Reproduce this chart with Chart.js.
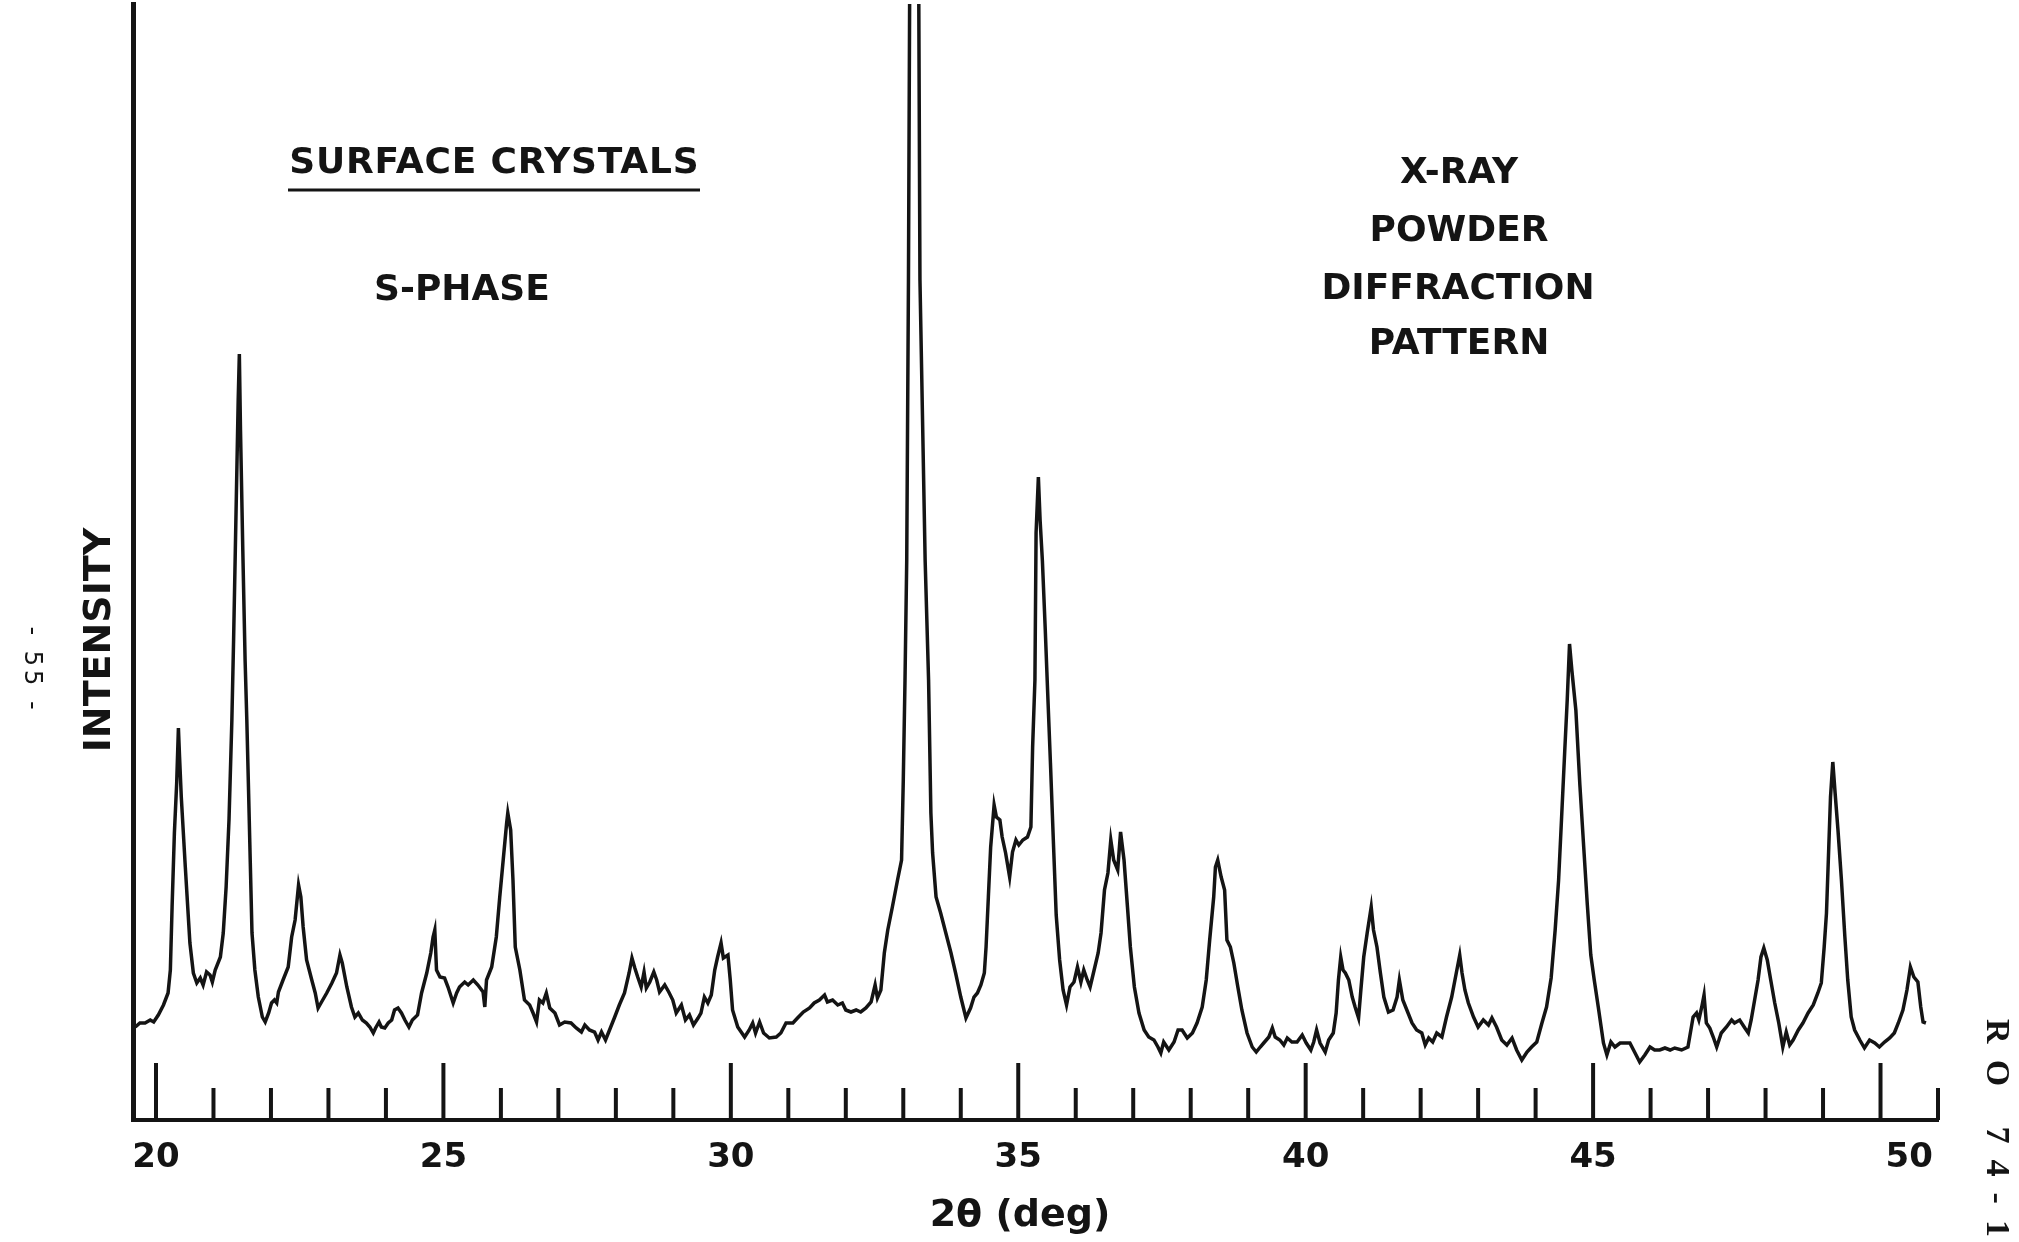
<!DOCTYPE html>
<html>
<head>
<meta charset="utf-8">
<title>X-ray powder diffraction pattern</title>
<script src="https://cdn.jsdelivr.net/npm/chart.js@4.4.1/dist/chart.umd.min.js"></script>
<style>
  html, body { margin: 0; padding: 0; background: #fff; }
  #wrap { width: 2019px; height: 1242px; }
</style>
</head>
<body>
<div id="wrap"><canvas id="xrd" width="2019" height="1242"></canvas></div>
<script>
// 2-theta positions (deg) of the traced recorder pen
const twoTheta = [
  19.64, 19.72, 19.81, 19.90, 19.96, 20.04, 20.13, 20.21, 20.25, 20.28, 20.32, 20.36, 20.39, 20.41, 20.44, 20.51,
  20.59, 20.65, 20.71, 20.77, 20.82, 20.88, 20.94, 20.98, 21.03, 21.12, 21.17, 21.22, 21.27, 21.32, 21.35, 21.38,
  21.41, 21.43, 21.45, 21.47, 21.51, 21.55, 21.58, 21.61, 21.64, 21.67, 21.72, 21.78, 21.85, 21.90, 21.96, 22.01,
  22.06, 22.10, 22.13, 22.21, 22.30, 22.36, 22.42, 22.48, 22.52, 22.56, 22.62, 22.71, 22.77, 22.82, 22.88, 22.97,
  23.06, 23.14, 23.20, 23.24, 23.32, 23.40, 23.46, 23.52, 23.59, 23.66, 23.72, 23.78, 23.82, 23.88, 23.92, 23.98,
  24.04, 24.10, 24.15, 24.21, 24.27, 24.33, 24.40, 24.46, 24.55, 24.62, 24.71, 24.78, 24.82, 24.85, 24.88, 24.94,
  25.02, 25.08, 25.17, 25.23, 25.28, 25.37, 25.43, 25.52, 25.60, 25.69, 25.72, 25.75, 25.84, 25.92, 25.98, 26.04,
  26.10, 26.12, 26.17, 26.21, 26.25, 26.33, 26.41, 26.50, 26.56, 26.62, 26.67, 26.73, 26.79, 26.85, 26.94, 27.02,
  27.11, 27.22, 27.31, 27.40, 27.46, 27.54, 27.63, 27.69, 27.75, 27.82, 27.89, 27.98, 28.06, 28.15, 28.23, 28.28,
  28.33, 28.38, 28.44, 28.49, 28.53, 28.59, 28.66, 28.71, 28.76, 28.85, 28.92, 28.99, 29.05, 29.14, 29.21, 29.28,
  29.35, 29.43, 29.48, 29.54, 29.60, 29.66, 29.72, 29.77, 29.83, 29.87, 29.95, 29.99, 30.03, 30.12, 30.24, 30.32,
  30.38, 30.43, 30.50, 30.57, 30.67, 30.79, 30.87, 30.96, 31.08, 31.16, 31.26, 31.37, 31.45, 31.54, 31.63, 31.68,
  31.77, 31.86, 31.94, 32.00, 32.09, 32.18, 32.26, 32.35, 32.44, 32.51, 32.55, 32.61, 32.67, 32.73, 32.81, 32.90,
  32.97, 33.00, 33.03, 33.06, 33.09, 33.11, 33.18, 33.27, 33.29, 33.38, 33.44, 33.48, 33.51, 33.57, 33.65, 33.74,
  33.83, 33.91, 34.00, 34.09, 34.17, 34.23, 34.29, 34.35, 34.41, 34.44, 34.48, 34.52, 34.58, 34.62, 34.68, 34.72,
  34.78, 34.85, 34.90, 34.96, 35.01, 35.08, 35.16, 35.22, 35.25, 35.29, 35.31, 35.35, 35.38, 35.42, 35.47, 35.51,
  35.56, 35.61, 35.66, 35.72, 35.78, 35.84, 35.90, 35.97, 36.03, 36.09, 36.14, 36.20, 36.25, 36.32, 36.39, 36.44,
  36.50, 36.56, 36.61, 36.66, 36.73, 36.78, 36.84, 36.90, 36.95, 37.02, 37.10, 37.19, 37.27, 37.36, 37.43, 37.48,
  37.53, 37.62, 37.71, 37.78, 37.85, 37.94, 38.03, 38.11, 38.20, 38.27, 38.33, 38.40, 38.43, 38.47, 38.53, 38.59,
  38.63, 38.69, 38.75, 38.82, 38.89, 38.98, 39.07, 39.14, 39.21, 39.27, 39.36, 39.42, 39.47, 39.55, 39.62, 39.68,
  39.76, 39.85, 39.94, 40.01, 40.09, 40.14, 40.19, 40.25, 40.34, 40.40, 40.48, 40.53, 40.57, 40.61, 40.65, 40.69,
  40.75, 40.81, 40.86, 40.92, 40.96, 41.01, 41.07, 41.14, 41.18, 41.24, 41.30, 41.36, 41.44, 41.52, 41.59, 41.63,
  41.69, 41.76, 41.85, 41.93, 42.02, 42.08, 42.14, 42.21, 42.28, 42.37, 42.45, 42.54, 42.62, 42.68, 42.72, 42.77,
  42.83, 42.92, 43.00, 43.09, 43.18, 43.24, 43.32, 43.41, 43.50, 43.59, 43.67, 43.76, 43.85, 43.93, 44.02, 44.11,
  44.19, 44.27, 44.34, 44.40, 44.45, 44.51, 44.55, 44.59, 44.63, 44.70, 44.77, 44.84, 44.90, 44.96, 45.02, 45.09,
  45.18, 45.24, 45.31, 45.38, 45.47, 45.55, 45.64, 45.73, 45.81, 45.90, 45.99, 46.07, 46.16, 46.25, 46.34, 46.42,
  46.54, 46.65, 46.68, 46.74, 46.80, 46.84, 46.89, 46.93, 46.97, 47.03, 47.09, 47.15, 47.23, 47.32, 47.41, 47.46,
  47.55, 47.64, 47.70, 47.75, 47.81, 47.87, 47.92, 47.97, 48.03, 48.09, 48.16, 48.23, 48.30, 48.36, 48.42, 48.48,
  48.57, 48.65, 48.74, 48.83, 48.91, 48.97, 49.02, 49.06, 49.10, 49.13, 49.17, 49.21, 49.26, 49.32, 49.38, 49.43,
  49.49, 49.55, 49.64, 49.72, 49.81, 49.90, 49.98, 50.07, 50.16, 50.24, 50.31, 50.39, 50.46, 50.52, 50.58, 50.65,
  50.70, 50.74, 50.79
];

// pen height above the base line, same order as twoTheta
const intensity = [
   93,  97,  97, 100,  98, 105, 115, 127, 150, 213, 287, 337, 392, 363, 323, 253,
  177, 147, 137, 142, 135, 148, 145, 138, 150, 163, 187, 233, 300, 400, 480, 570,
  660, 720, 766, 690, 570, 460, 400, 330, 258, 187, 150, 123, 103,  98, 107, 117,
  120, 117, 128, 140, 153, 183, 200, 235, 223, 193, 160, 140, 127, 112, 118, 127,
  137, 147, 165, 157, 133, 113, 103, 107, 100,  97,  93,  87,  92,  98,  93,  92,
   97, 100, 110, 112, 107, 100,  93, 100, 105, 127, 147, 167, 183, 190, 150, 143,
  142, 133, 117, 127, 133, 138, 135, 140, 135, 128, 113, 140, 153, 183, 223, 260,
  297, 307, 290, 240, 173, 150, 120, 115, 107,  98, 120, 117, 127, 112, 107,  95,
   98,  97,  92,  88,  95,  90,  88,  80,  88,  80,  90, 103, 115, 127, 147, 162,
  152, 143, 133, 148, 132, 138, 148, 140, 128, 135, 128, 120, 107, 115, 100, 105,
   95, 102, 107, 123, 117, 125, 150, 163, 177, 162, 165, 140, 110,  93,  83,  90,
   97,  87,  98,  87,  82,  83,  87,  97,  97, 102, 108, 112, 117, 120, 125, 118,
  120, 115, 117, 110, 108, 110, 108, 112, 118, 135, 122, 130, 167, 190, 213, 240,
  260, 340, 440, 560, 840, 1116, 1400, 1116, 840, 560, 440, 307, 267, 223, 207, 187,
  167, 147, 123, 102, 112, 123, 127, 135, 147, 173, 223, 273, 315, 303, 300, 283,
  267, 243, 268, 280, 275, 280, 283, 293, 373, 440, 587, 643, 600, 559, 490, 430,
  357, 280, 205, 160, 130, 115, 133, 138, 153, 138, 150, 140, 133, 150, 167, 187,
  230, 247, 280, 260, 250, 288, 260, 213, 173, 133, 107,  90,  83,  80,  73,  67,
   78,  70,  78,  90,  90,  82,  87,  97, 113, 140, 180, 223, 253, 260, 243, 230,
  180, 173, 157, 133, 110,  87,  73,  68,  73,  77,  83,  92,  83,  80,  75,  82,
   78,  78,  85,  77,  70,  78,  90,  77,  68,  80,  87, 107, 140, 163, 150, 147,
  140, 123, 113, 102, 130, 163, 187, 213, 190, 173, 147, 123, 108, 110, 123, 140,
  120, 110,  97,  90,  87,  75,  82,  78,  87,  83, 103, 123, 147, 165, 147, 130,
  117, 103,  93, 100,  95, 102,  93,  80,  75,  82,  70,  60,  68,  73,  78,  97,
  113, 142, 190, 240, 300, 373, 420, 476, 450, 410, 335, 270, 215, 165, 140, 113,
   77,  65,  78,  73,  77,  77,  77,  67,  58,  65,  73,  70,  70,  72,  70,  72,
   70,  73,  83, 103, 107, 100, 113, 125,  97,  92,  83,  73,  87,  93, 100,  97,
  100,  92,  87, 100, 120, 140, 163, 172, 160, 140, 117,  97,  73,  88,  75,  80,
   90,  97, 107, 115, 127, 137, 173, 207, 273, 323, 358, 327, 290, 240, 183, 140,
  103,  90,  80,  72,  80,  77,  73,  78,  82,  87,  97, 110, 130, 153, 143, 138,
  113,  98,  97
];

// chart-paper tick marks along the 2-theta axis
const tickMarks = [20, 21, 22, 23, 24, 25, 26, 27, 28, 29, 30, 31, 32, 33, 34, 35,
                   36, 37, 38, 39, 40, 41, 42, 43, 44, 45, 46, 47, 48, 49, 50, 51];
const majorTicks = [20, 25, 30, 35, 40, 45, 50];
const labelPositions = [20, 25, 30, 35, 40, 45, 50.5];
const labelTexts = ['20', '25', '30', '35', '40', '45', '50'];

const INK = '#141414';
const LETTERING = '"DejaVu Sans", "Liberation Sans", sans-serif';

// hand-lettered notes and margin marks on the sheet
const sheetText = [
  { text: 'SURFACE CRYSTALS', x: 494, y: 164, size: 36, spacing: 0.8, underline: [288, 700, 190] },
  { text: 'S-PHASE', x: 462, y: 291, size: 36 },
  { text: 'X-RAY', x: 1459, y: 174, size: 36 },
  { text: 'POWDER', x: 1459, y: 232, size: 36 },
  { text: 'DIFFRACTION', x: 1458, y: 290, size: 36 },
  { text: 'PATTERN', x: 1459, y: 345, size: 36 },
  { text: 'INTENSITY', x: 100, y: 640, size: 38, rotate: -Math.PI / 2 },
  { text: '2\u03B8 (deg)', x: 1020, y: 1216, size: 38 },
  { text: '- 55 -', x: 31, y: 668, size: 24, rotate: Math.PI / 2, spacing: 4, weight: 'normal' },
  { text: 'RO 74-1', x: 1996, y: 1128, size: 34, rotate: Math.PI / 2, spacing: 16,
    weight: 'bold', family: '"Liberation Serif", "DejaVu Serif", serif' }
];

const tickMarkPlugin = {
  id: 'tickMarks',
  afterDatasetsDraw(chart) {
    const { ctx, scales: { x }, chartArea } = chart;
    ctx.save();
    ctx.strokeStyle = INK;
    ctx.lineWidth = 4;
    tickMarks.forEach(function(v) {
      const px = x.getPixelForValue(v);
      const len = majorTicks.includes(v) ? 57 : 32;
      ctx.beginPath();
      ctx.moveTo(px, chartArea.bottom);
      ctx.lineTo(px, chartArea.bottom - len);
      ctx.stroke();
    });
    ctx.restore();
  }
};

const sheetTextPlugin = {
  id: 'sheetText',
  afterDraw(chart) {
    const ctx = chart.ctx;
    sheetText.forEach(function(t) {
      ctx.save();
      ctx.fillStyle = INK;
      ctx.font = (t.weight || 'bold') + ' ' + t.size + 'px ' + (t.family || LETTERING);
      ctx.letterSpacing = (t.spacing || 0) + 'px';
      ctx.textAlign = 'center';
      ctx.textBaseline = 'middle';
      ctx.translate(t.x, t.y);
      if (t.rotate) ctx.rotate(t.rotate);
      ctx.fillText(t.text, (t.spacing || 0) / 2, 0);
      ctx.restore();
      if (t.underline) {
        ctx.save();
        ctx.strokeStyle = INK;
        ctx.lineWidth = 3;
        ctx.beginPath();
        ctx.moveTo(t.underline[0], t.underline[2]);
        ctx.lineTo(t.underline[1], t.underline[2]);
        ctx.stroke();
        ctx.restore();
      }
    });
  }
};

const points = twoTheta.map(function(t, i) { return { x: t, y: intensity[i] }; });

new Chart(document.getElementById('xrd'), {
  type: 'line',
  data: {
    datasets: [{
      label: 'Surface crystals, S-phase',
      data: points,
      borderColor: INK,
      borderWidth: 3.5,
      pointRadius: 0,
      tension: 0,
      fill: false
    }]
  },
  options: {
    responsive: false,
    animation: false,
    layout: { padding: { top: 4, right: 81, left: 0, bottom: 0 } },
    plugins: {
      legend: { display: false },
      tooltip: { enabled: false }
    },
    scales: {
      x: {
        type: 'linear',
        position: 'bottom',
        min: 19.6,
        max: 51,
        border: { display: true, color: INK, width: 4 },
        grid: { display: false, drawTicks: false },
        afterBuildTicks: function(scale) {
          scale.ticks = labelPositions.map(function(v) { return { value: v }; });
        },
        afterFit: function(scale) { scale.height = 122; },
        ticks: {
          autoSkip: false,
          maxRotation: 0,
          padding: 18,
          color: INK,
          font: { family: LETTERING, size: 34, weight: 'bold' },
          callback: function(value, index) { return labelTexts[index]; }
        }
      },
      y: {
        type: 'linear',
        min: 0,
        max: 1116,
        border: { display: true, color: INK, width: 5 },
        grid: { display: false, drawTicks: false },
        ticks: { display: false },
        afterFit: function(scale) { scale.width = 133; }
      }
    }
  },
  plugins: [tickMarkPlugin, sheetTextPlugin]
});
</script>
</body>
</html>
